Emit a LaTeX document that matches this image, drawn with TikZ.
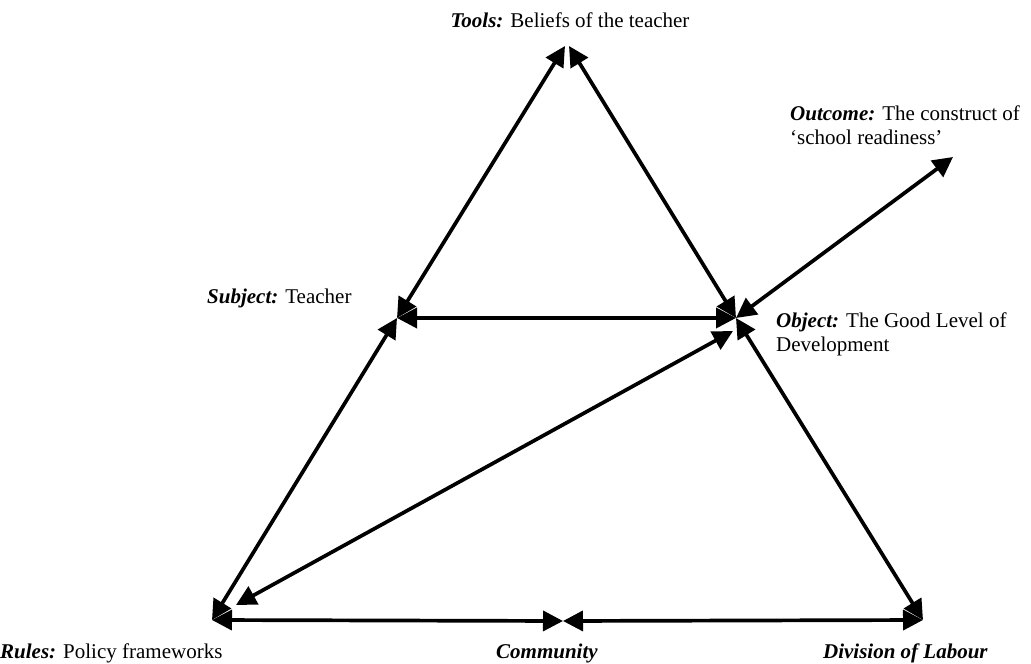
\documentclass[tikz,border=0pt]{standalone}
\usepackage{fontspec}
\setmainfont{Liberation Serif}
\usetikzlibrary{arrows.meta}
\begin{document}
\begin{tikzpicture}[x=1pt,y=-1pt,
  link/.style={line width=3.7pt,{Triangle[length=20pt,width=20pt]}-{Triangle[length=20pt,width=20pt]}},
  lbl/.style={font=\fontsize{21}{24}\selectfont,inner sep=0pt,align=left}]
\useasboundingbox (0,0) rectangle (1031,664);
% vertices of the activity triangle
\coordinate (T) at (565,46);
\coordinate (S) at (397,318);
\coordinate (O) at (736,318);
\coordinate (R) at (212,620);
\coordinate (C) at (563,621);
\coordinate (D) at (923,620);
\coordinate (Out) at (953,157);
\coordinate (Oa) at (733,331);
\coordinate (Ra) at (236,605);
\coordinate (Ta) at (569,46);
% connectors
\draw[link] (S) -- (T);
\draw[link] (O) -- (Ta);
\draw[link] (S) -- (O);
\draw[link] (R) -- (S);
\draw[link] (Ra) -- (Oa);
\draw[link] (O) -- (D);
\draw[link] (R) -- (C);
\draw[link] (C) -- (D);
\draw[link] (O) -- (Out);
% labels (base anchor of a two-line label sits on its last line)
\node[lbl,anchor=base] (tools) at (570,27) {\textbf{\textit{Tools:}} Beliefs of the teacher};
\node[lbl,anchor=base west] (outcome) at (790,144) {\textbf{\textit{Outcome:}} The construct of\\‘school readiness’};
\node[lbl,anchor=base west] (subject) at (207,303) {\textbf{\textit{Subject:}} Teacher};
\node[lbl,anchor=base west] (object) at (776,351) {\textbf{\textit{Object:}} The Good Level of\\Development};
\node[lbl,anchor=base west] (rules) at (0,658) {\textbf{\textit{Rules:}} Policy frameworks};
\node[lbl,anchor=base] (community) at (547,658) {\textbf{\textit{Community}}};
\node[lbl,anchor=base east] (division) at (988,658) {\textbf{\textit{Division of Labour}}};
\end{tikzpicture}
\end{document}
